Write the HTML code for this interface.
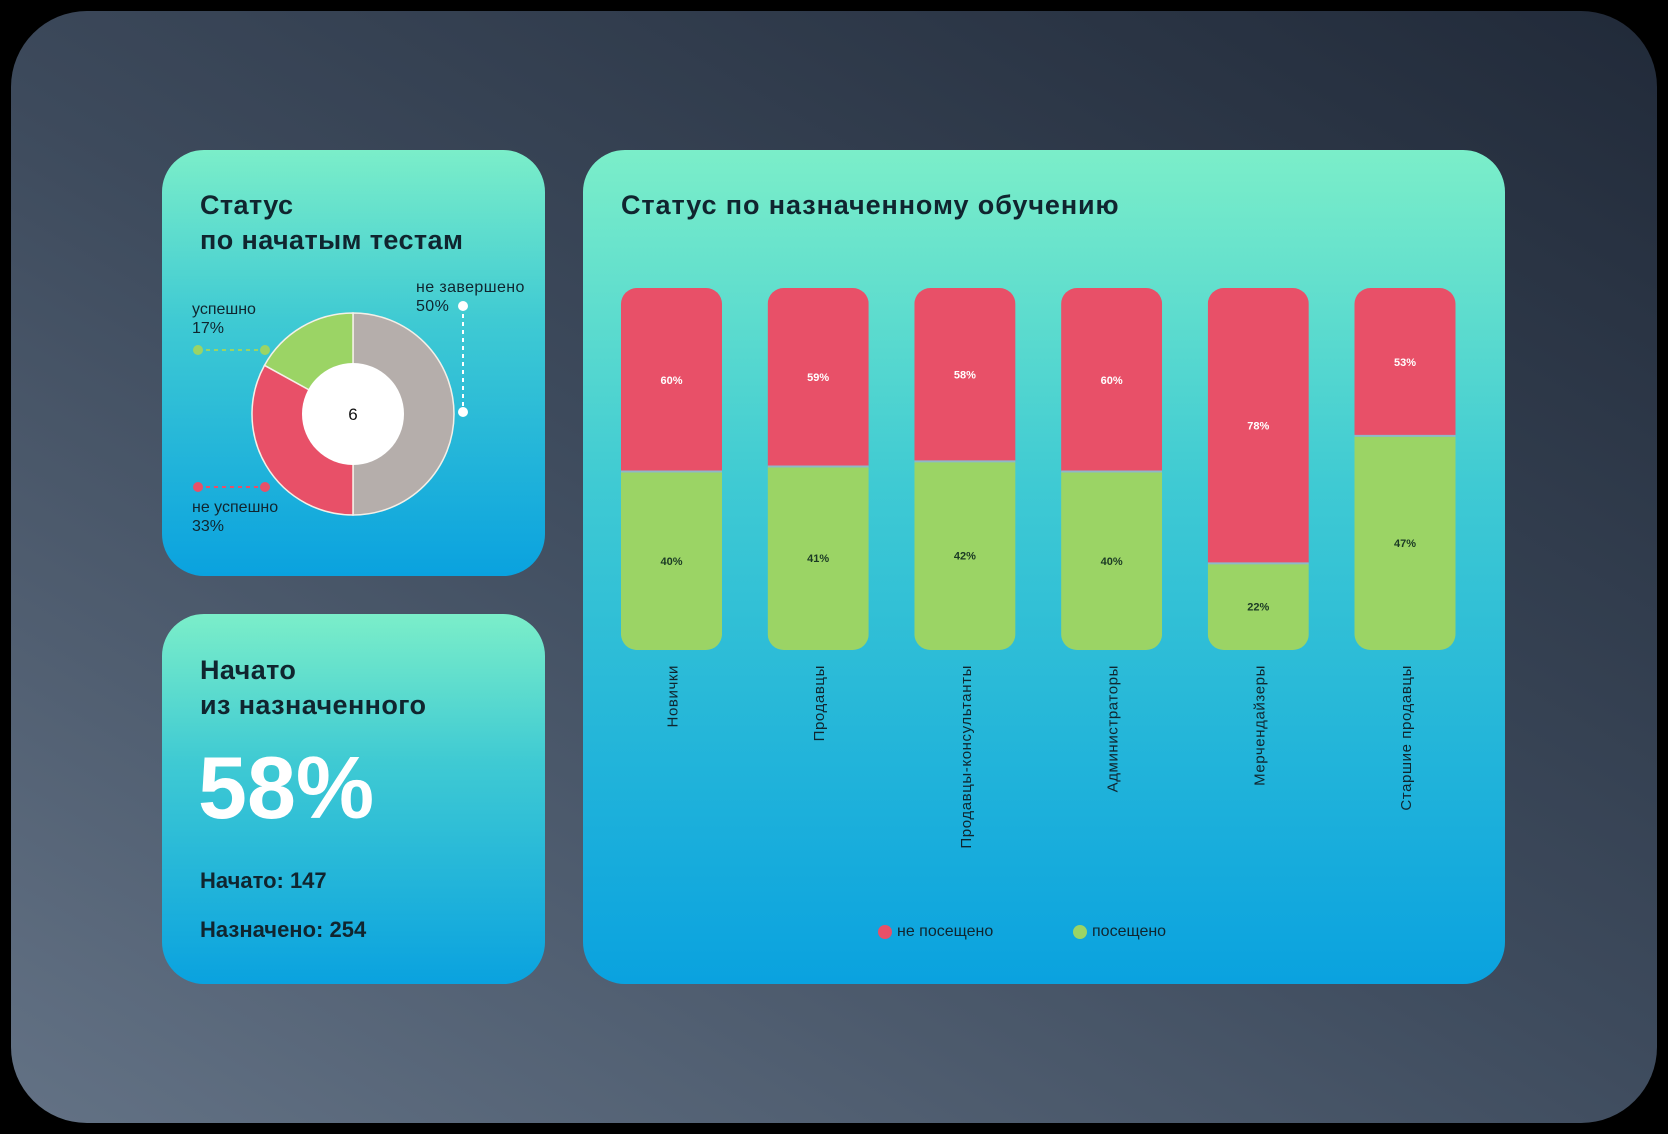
<!DOCTYPE html>
<html><head><meta charset="utf-8"><style>
html,body{margin:0;padding:0;width:1668px;height:1134px;overflow:hidden;background:#000;}
body{font-family:"Liberation Sans",sans-serif;position:relative;}
.frame{position:absolute;left:11px;top:11px;width:1646px;height:1112px;border-radius:76px;background:linear-gradient(30deg,#637285 0%,#3d4a5c 50%,#212a39 100%);}
.card{position:absolute;border-radius:42px;background:linear-gradient(180deg,#7beec9 0%,#3fcad3 40%,#0aa2df 100%);}
.t{position:absolute;color:#10252f;white-space:nowrap;}
</style></head><body>
<div class="frame"></div>

<div class="card" style="left:162px;top:150px;width:383px;height:426px;">
  <div class="t" style="left:38px;top:38px;font-size:27px;font-weight:bold;line-height:35px;letter-spacing:0.4px;">Статус<br>по начатым тестам</div>
  <svg width="383" height="426" style="position:absolute;left:0;top:0" id="donut"></svg>
  <div class="t" style="left:30px;top:150px;font-size:16px;line-height:19px;">успешно<br>17%</div>
  <div class="t" style="left:254px;top:128px;font-size:16px;line-height:19px;letter-spacing:0.4px;">не завершено<br>50%</div>
  <div class="t" style="left:30px;top:348px;font-size:16px;line-height:19px;">не успешно<br>33%</div>
</div>

<div class="card" style="left:162px;top:614px;width:383px;height:370px;">
  <div class="t" style="left:38px;top:39px;font-size:27px;font-weight:bold;line-height:35px;letter-spacing:0.4px;">Начато<br>из назначенного</div>
  <div class="t" style="left:36px;top:124px;font-size:88px;font-weight:bold;color:#fff;line-height:100px;">58%</div>
  <div class="t" style="left:38px;top:254px;font-size:22px;font-weight:bold;">Начато: 147</div>
  <div class="t" style="left:38px;top:303px;font-size:22px;font-weight:bold;">Назначено: 254</div>
</div>

<div class="card" style="left:583px;top:150px;width:922px;height:834px;">
  <div class="t" style="left:38px;top:38px;font-size:27px;font-weight:bold;line-height:35px;letter-spacing:0.9px;">Статус по назначенному обучению</div>
  <svg id="bars" width="922" height="834" style="position:absolute;left:0;top:0"></svg>
  <div style="position:absolute;left:295px;top:773px;">
    <div style="position:absolute;left:0;top:2px;width:14px;height:14px;border-radius:50%;background:#e85068"></div>
    <div class="t" style="left:19px;top:0;font-size:16px;">не посещено</div>
  </div>
  <div style="position:absolute;left:490px;top:773px;">
    <div style="position:absolute;left:0;top:2px;width:14px;height:14px;border-radius:50%;background:#9bd465"></div>
    <div class="t" style="left:19px;top:0;font-size:16px;">посещено</div>
  </div>
</div>

<script>
const NS="http://www.w3.org/2000/svg";
// donut data
const donutLabels=["не завершено","не успешно","успешно"];
const donutValues=[50,33,17];
const donutColors=["#b5aeab","#e85068","#9bd465"];
const donutTotal=6;

const categories=["Новички","Продавцы","Продавцы-консультанты","Администраторы","Мерчендайзеры","Старшие продавцы"];
const notVisited=[60,59,58,60,78,53];
const visited=[40,41,42,40,22,47];
// axis domain of visited-segment scale (as drawn in source chart)
const axisDomain=[5,76];

function mk(tag,attrs,parent){const e=document.createElementNS(NS,tag);for(const k in attrs)e.setAttribute(k,attrs[k]);parent.appendChild(e);return e;}

// donut
(function(){
  const svg=document.getElementById('donut');
  const cx=191,cy=264,R=101,r=51;
  const sum=donutValues.reduce((a,b)=>a+b,0);
  let a0=0;
  donutValues.forEach((v,i)=>{
    const a1=a0+v/sum*Math.PI*2;
    const p=(a,rad)=>[cx+rad*Math.sin(a),cy-rad*Math.cos(a)];
    const [x0,y0]=p(a0,R),[x1,y1]=p(a1,R);
    const large=(a1-a0)>Math.PI?1:0;
    const path=mk('path',{d:`M${cx},${cy} L${x0},${y0} A${R},${R} 0 ${large} 1 ${x1},${y1} Z`,fill:donutColors[i],stroke:"#f4f0e8","stroke-width":1.5},svg);
    
    
    a0=a1;
  });
  const hole=mk('circle',{cx:cx,cy:cy,r:r,fill:"#fff"},svg);
  
  
  const tt=mk('text',{x:cx,y:cy+6,"text-anchor":"middle","font-size":17,fill:"#111","font-family":"Liberation Sans"},svg);
  tt.textContent=donutTotal;
  
  
  const lines=[[36,200,103,200,"#9bd465"],[36,337,103,337,"#e85068"],[301,156,301,262,"#ffffff"]];
  lines.forEach(l=>{
    const g=mk('g',{},svg);
    
    
    mk('line',{x1:l[0],y1:l[1],x2:l[2],y2:l[3],stroke:l[4],"stroke-width":2,"stroke-dasharray":"4 4"},g);
    mk('circle',{cx:l[0],cy:l[1],r:5,fill:l[4]},g);
    mk('circle',{cx:l[2],cy:l[3],r:5,fill:l[4]},g);
  });
})();

// bars
(function(){
  const svg=document.getElementById('bars');
  const x0=38,pitch=146.7,bw=101,top=138,h=362,rr=16;
  const yScale=v=>Math.max(0,Math.min(h,(v-axisDomain[0])/(axisDomain[1]-axisDomain[0])*h));
  categories.forEach((c,i)=>{
    const x=x0+i*pitch;
    const hg=yScale(visited[i]);
    const hr=h-hg;
    const g=mk('g',{},svg);
    
    
    const cp=mk('clipPath',{id:'cp'+i},g);
    mk('rect',{x:x,y:top,width:bw,height:h,rx:rr},cp);
    const gg=mk('g',{"clip-path":`url(#cp${i})`},g);
    mk('rect',{x:x,y:top,width:bw,height:hr,fill:"#e85068"},gg);
    mk('rect',{x:x,y:top+hr,width:bw,height:hg,fill:"#9bd465"},gg);
    mk('line',{x1:x,x2:x+bw,y1:top+hr,y2:top+hr,stroke:"#8fb8c8","stroke-width":2},gg);
    const t1=mk('text',{x:x+bw/2,y:top+hr/2+4,"text-anchor":"middle","font-size":11,"font-weight":"bold",fill:"#fff","font-family":"Liberation Sans"},g);
    t1.textContent=notVisited[i]+"%";
    const t2=mk('text',{x:x+bw/2,y:top+hr+hg/2+4,"text-anchor":"middle","font-size":11,"font-weight":"bold",fill:"#1b3a24","font-family":"Liberation Sans"},g);
    t2.textContent=visited[i]+"%";
    const lx=x+bw/2+6,ly=top+h+15;
    const lb=mk('text',{x:lx,y:ly,transform:`rotate(-90 ${lx} ${ly})`,"text-anchor":"end","font-size":15,fill:"#10252f","font-family":"Liberation Sans","letter-spacing":"0.6"},svg);
    lb.textContent=c;
    
    
  });
})();
</script>
</body></html>
